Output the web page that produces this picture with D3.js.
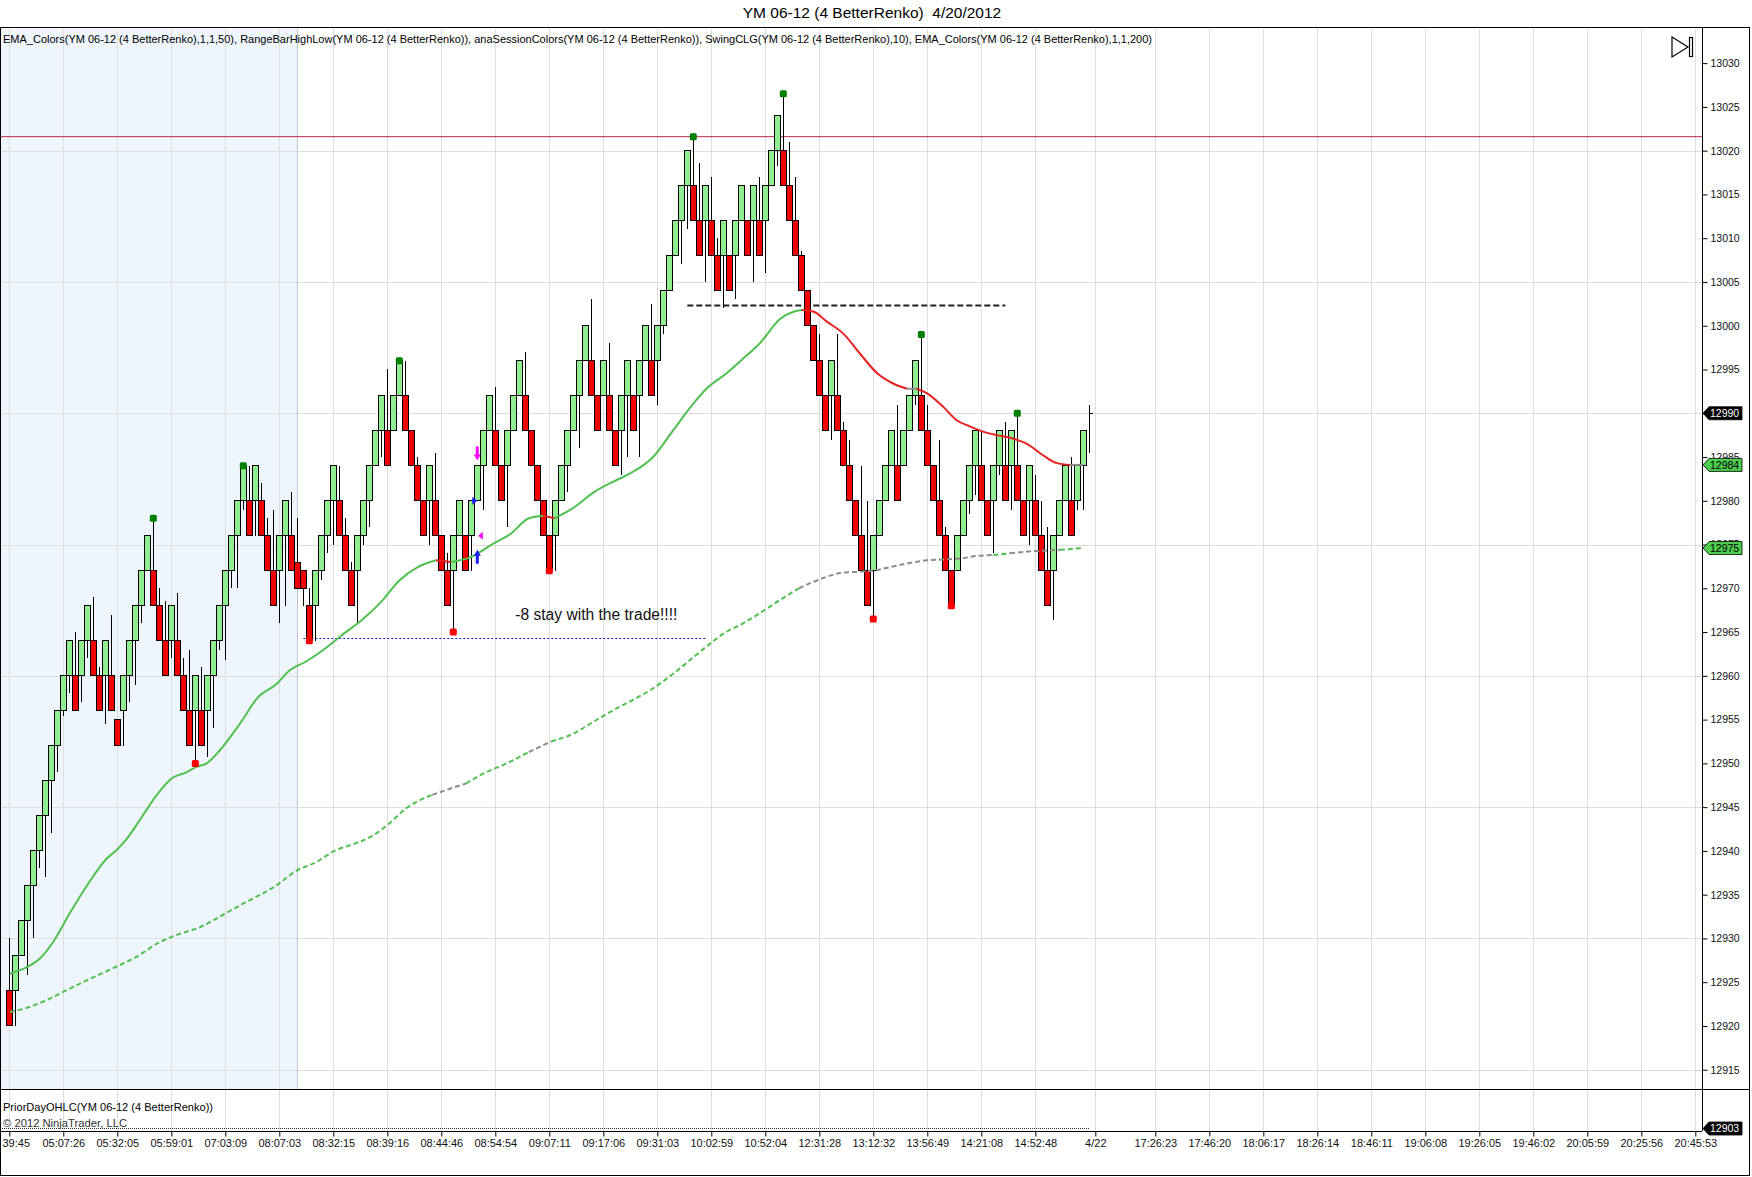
<!DOCTYPE html>
<html>
<head>
<meta charset="utf-8">
<script src="https://cdn.jsdelivr.net/npm/d3@7"></script>
<style>
  body { margin: 0; background: #fff; }
  svg { display: block; font-family: "Liberation Sans", Arial, sans-serif; }
</style>
</head>
<body>
<svg id="chart" width="1752" height="1177"></svg>
<script>
// ---- renko bars (bar 1 .. 181) ----
const barOpen = [
  12924,12924,12928,12932,12936,12940,12944,12948,12952,12956,
  12960,12960,12960,12964,12964,12960,12960,12960,12955,12956,
  12960,12964,12968,12972,12972,12968,12964,12964,12964,12960,
  12956,12956,12956,12956,12960,12964,12968,12972,12976,12980,
  12980,12980,12980,12976,12972,12972,12976,12976,12973,12972,
  12968,12968,12972,12976,12980,12980,12976,12972,12972,12976,
  12980,12984,12988,12988,12988,12992,12992,12988,12984,12980,
  12980,12980,12976,12972,12972,12976,12976,12976,12980,12984,
  12988,12988,12984,12984,12988,12992,12992,12988,12984,12980,
  12976,12976,12980,12984,12988,12992,12996,12996,12992,12992,
  12992,12988,12988,12992,12992,12992,12996,12996,12996,13000,
  13004,13008,13012,13016,13016,13012,13012,13012,13008,13008,
  13008,13008,13012,13012,13012,13012,13012,13016,13020,13020,
  13016,13012,13008,13004,13000,12996,12992,12992,12992,12988,
  12984,12980,12976,12972,12972,12976,12980,12984,12984,12984,
  12988,12992,12992,12988,12984,12980,12976,12972,12972,12976,
  12980,12984,12984,12980,12980,12984,12984,12984,12984,12980,
  12980,12980,12976,12972,12972,12976,12980,12980,12980,12984,
  12990];
const barClose = [
  12920,12928,12932,12936,12940,12944,12948,12952,12956,12960,
  12964,12956,12964,12968,12960,12956,12964,12956,12952,12960,
  12964,12968,12972,12976,12968,12964,12960,12968,12960,12956,
  12952,12960,12952,12960,12964,12968,12972,12976,12980,12984,
  12976,12984,12976,12972,12968,12976,12980,12972,12970,12970,
  12964,12972,12976,12980,12984,12976,12972,12968,12976,12980,
  12984,12988,12992,12984,12992,12996,12988,12984,12980,12976,
  12984,12976,12972,12968,12976,12980,12972,12980,12984,12988,
  12992,12984,12980,12988,12992,12996,12988,12984,12980,12976,
  12972,12980,12984,12988,12992,12996,13000,12992,12988,12996,
  12988,12984,12992,12996,12988,12996,13000,12992,13000,13004,
  13008,13012,13016,13020,13012,13008,13016,13008,13004,13012,
  13004,13012,13016,13008,13016,13008,13016,13020,13024,13016,
  13012,13008,13004,13000,12996,12992,12988,12996,12988,12984,
  12980,12976,12972,12968,12976,12980,12984,12988,12980,12988,
  12992,12996,12988,12984,12980,12976,12972,12968,12976,12980,
  12984,12988,12980,12976,12984,12988,12980,12988,12980,12976,
  12984,12976,12972,12968,12976,12980,12984,12976,12984,12988,
  12990];
const barHigh = [
  12930,12928,12932,12936,12940,12944,12948,12952,12956,12960,
  12964,12965,12964,12968,12969,12961,12964,12967,12955,12960,
  12964,12968,12972,12976,12978,12970,12968.5,12968,12969.5,12962,
  12963,12960,12961,12960,12964,12968,12972,12976,12980,12984,
  12984,12984,12982,12978,12979,12976,12980,12981,12978,12972,
  12970,12972,12976,12980,12984,12984,12978,12973,12976,12980,
  12984,12988,12992,12995,12992,12996,12996,12988,12985,12980,
  12984,12985.5,12976,12974,12976,12980,12976,12980,12984,12988,
  12992,12993,12984,12988,12992,12996,12997,12988,12984,12980,
  12976,12980,12984,12988,12992,12996,13000,13003,12992,12996,
  12998,12988,12992,12996,12992,12996,13000,13002.5,13000,13004,
  13008,13012,13016,13020,13021.6,13018.6,13016,13017,13010,13012,
  13008,13012,13016,13012,13016,13017,13016,13020,13024,13026.5,
  13021,13017,13008.5,13004,13000,12999,12992,12996,12999,12989,
  12987,12980,12984,12980,12976,12980,12984,12988,12991,12988,
  12992,12996,12999,12991,12984,12987,12977,12972,12976,12980,
  12984,12988,12988,12980,12984,12988,12989,12988,12990,12980,
  12984,12983,12980,12977,12976,12980,12984,12985,12984,12988,
  12991];
const barLow = [
  12920,12920,12928,12925.8,12930,12938,12937,12942,12949,12955.4,
  12958,12956,12957,12962,12960,12956,12954.5,12956,12952,12952,
  12957,12959,12966,12972,12968,12964,12960,12962,12960,12956,
  12952,12950,12952,12950.7,12954,12963,12961.8,12970,12970,12979,
  12976,12976,12976,12972,12968,12966,12968,12972,12970,12968,
  12964,12964,12971,12974,12975,12976,12972,12968,12966,12975,
  12977,12984,12985,12984,12988,12992,12988,12984,12980,12976,
  12975,12976,12972,12968,12965,12976,12972,12972,12980,12979,
  12988,12984,12980,12977,12988,12992,12988,12984,12980,12976,
  12972,12972,12980,12981,12988,12986,12996,12992,12988,12992,
  12988,12984,12983,12985,12988,12985,12996,12992,12991,12999,
  13004,13008,13007,13011,13012,13008,13005,13008,13004,13002,
  13004,13003,13012,13008,13005,13008,13006,13016,13018.3,13016,
  13012,13008,13004,13000,12996,12992,12988,12987,12988,12984,
  12980,12976,12972,12968,12966.5,12976,12980,12984,12980,12984,
  12988,12991,12988,12984,12980,12976,12972,12968,12972,12976,
  12978.5,12980.7,12980,12976,12974,12983,12980,12979,12980,12976,
  12975,12976,12972,12968,12966.4,12976,12980,12976,12979,12979,
  12985.5];

// ---- EMA(50) : bar position / value ----
const ema50Bar = [1.1,3.6,6.1,8.3,11.1,14.2,17.2,18.9,20.6,23.3,25.6,28.1,30.6,32.2,33.9,36.1,39.4,42.5,45.6,47.5,
  50.6,53.6,56.7,59.8,62.9,66.0,69.0,72.1,74.6,77.7,81.4,84.5,87.6,90.0,91.9,95.0,98.7,101.7,104.4,108.3,
  111.7,115.0,117.2,120.6,123.4,126.1,129.5,131.7,133.1,135.1,137.2,140.0,142.8,145.6,148.3,150.6,152.2,153.9,156.7,158.9,
  161.1,163.3,165.6,167.8,170.6,173.3,175.6,177.8,180.0];
const ema50Val = [12926.0,12926.6,12927.7,12929.6,12932.9,12936.3,12939.1,12940.1,12941.4,12944.1,12946.4,12948.3,12949.0,12949.6,12950.0,12951.5,12954.5,12957.6,12959.1,12960.5,
  12961.7,12963.1,12964.8,12966.4,12968.4,12970.9,12972.4,12973.2,12973.0,12973.5,12975.0,12976.2,12978.0,12978.3,12978.0,12979.2,12981.1,12982.2,12983.1,12985.0,
  12988.1,12991.1,12992.8,12994.6,12996.3,12998.0,13000.8,13001.6,13001.8,13001.6,13000.5,12999.1,12996.8,12994.6,12993.4,12992.8,12992.8,12992.3,12990.7,12989.2,
  12988.5,12987.9,12987.5,12987.2,12986.5,12985.2,12984.3,12984.1,12984.1];

// ---- EMA(200) ----
const ema200Bar = [1.1,3.6,6.7,10.6,14.5,18.3,22.2,25.6,28.9,32.8,36.1,39.5,45.6,49.0,51.8,55.5,58.0,61.7,64.1,67.2,
  71.5,74.0,77.1,80.2,83.9,87.6,91.3,95.0,98.7,101.7,104.8,107.9,111.0,114.1,117.1,120.2,123.3,126.4,129.5,132.6,
  135.6,140.0,142.8,145.6,148.3,151.1,153.9,156.7,159.5,162.2,165.0,167.8,170.6,173.3,176.1,180.0];
const ema200Val = [12921.6,12922.0,12922.8,12924.1,12925.4,12926.6,12927.9,12929.4,12930.4,12931.3,12932.5,12933.8,12936.1,12937.8,12938.6,12940.1,12940.7,12941.8,12943.0,12944.9,
  12946.4,12947.0,12947.7,12948.9,12950.0,12951.3,12952.5,12953.4,12954.9,12956.1,12957.2,12958.4,12959.9,12961.6,12963.3,12964.9,12966.0,12967.3,12968.7,12970.0,
  12970.9,12971.8,12971.9,12972.1,12972.5,12972.9,12973.2,12973.3,12973.4,12973.7,12973.8,12974.0,12974.2,12974.3,12974.4,12974.6];
// stretches where the 200 line is shown neutral (grey)
const ema200Flat = [[71.5, 77.1], [87.6, 91.3], [132.6, 165.0], [167.8, 176.1]];

// ---- swing points, drawn objects ----
const swingHighBars = [25, 40, 66, 115, 130, 153, 169];
const swingLowBars = [32, 51, 75, 91, 145, 158];
const priorDayHigh = 13021.6;
const blueLine = { from: 50, to: 117, price: 12964.3 };
const blackLine = { from: 114, to: 167, price: 13002.3 };
const tradeMarks = [
  { bar: 79, price: 12980, kind: "entry" },
  { bar: 79, price: 12976, kind: "exit" },
  { bar: 79, price: 12984.6, kind: "down" },
  { bar: 79, price: 12974.4, kind: "up" }
];
const note = { bar: 85, price: 12967, text: "-8 stay with the trade!!!!" };
const sessionStartBar = 49;
const priorDayClose = 12903;

// ---- axes ----
// first label is clipped by the left edge in the chart, only "39:45" shows
const timeLabels = ["39:45","05:07:26","05:32:05","05:59:01","07:03:09","08:07:03","08:32:15","08:39:16",
  "08:44:46","08:54:54","09:07:11","09:17:06","09:31:03","10:02:59","10:52:04","12:31:28","13:12:32",
  "13:56:49","14:21:08","14:52:48","4/22","17:26:23","17:46:20","18:06:17","18:26:14","18:46:11",
  "19:06:08","19:26:05","19:46:02","20:05:59","20:25:56","20:45:53"];
const timeBars = [1,10,19,28,37,46,55,64,73,82,91,100,109,118,127,136,145,154,163,172,182,
  192,201,210,219,228,237,246,255,264,273,282];
const priceTicks = d3.range(12915, 13031, 5);
const priceGrid = d3.range(12915, 13021, 15);

// ---- layout ----
const W = 1752, H = 1177;
const paneTop = 29, paneBottom = 1089, panelBottom = 1131, axisX = 1702;

const x = d3.scaleLinear().domain([1, 282]).range([9.3, 1695.3]);
const y = d3.scaleLinear().domain([12912.8, 13033.9]).range([paneBottom, paneTop]);
const yPanel = d3.scaleLinear().domain([12902.5, 12909.5]).range([panelBottom, paneBottom]);

const GREEN = "#50c050", RED = "#e82020", GREY = "#8c8c8c";

const svg = d3.select("#chart");
svg.append("rect").attr("width", W).attr("height", H).attr("fill", "#fff");

// session shading
svg.append("rect")
  .attr("x", 0).attr("y", paneTop)
  .attr("width", x(sessionStartBar)).attr("height", paneBottom - paneTop)
  .attr("fill", "#eef5fd");

// grid
const grid = svg.append("g").attr("shape-rendering", "crispEdges");
grid.selectAll("line.v").data(timeBars).enter().append("line")
  .attr("x1", d => Math.round(x(d)) + 0.5).attr("x2", d => Math.round(x(d)) + 0.5)
  .attr("y1", paneTop).attr("y2", panelBottom)
  .attr("stroke", "#dedede");
grid.selectAll("line.h").data(priceGrid).enter().append("line")
  .attr("x1", 0).attr("x2", axisX)
  .attr("y1", d => Math.round(y(d)) + 0.5).attr("y2", d => Math.round(y(d)) + 0.5)
  .attr("stroke", "#dedede");
grid.append("line")
  .attr("x1", Math.round(x(sessionStartBar)) + 0.5).attr("x2", Math.round(x(sessionStartBar)) + 0.5)
  .attr("y1", paneTop).attr("y2", paneBottom)
  .attr("stroke", "#bcc7d3");

// prior day high
svg.append("line")
  .attr("x1", 0).attr("x2", axisX)
  .attr("y1", y(priorDayHigh)).attr("y2", y(priorDayHigh))
  .attr("stroke", "#b82a4a").attr("stroke-width", 1);

// drawn horizontal lines
svg.append("line")
  .attr("x1", x(blueLine.from)).attr("x2", x(blueLine.to))
  .attr("y1", Math.round(y(blueLine.price)) + 0.5).attr("y2", Math.round(y(blueLine.price)) + 0.5)
  .attr("stroke", "#1a1ad0").attr("stroke-width", 1).attr("stroke-dasharray", "2,2");
svg.append("line")
  .attr("x1", x(blackLine.from)).attr("x2", x(blackLine.to))
  .attr("y1", y(blackLine.price)).attr("y2", y(blackLine.price))
  .attr("stroke", "#222").attr("stroke-width", 2).attr("stroke-dasharray", "6,3");

// bars
const bars = barOpen.map((o, i) => ({ i: i + 1, o, c: barClose[i], h: barHigh[i], l: barLow[i] }));
const barG = svg.append("g").attr("shape-rendering", "crispEdges");
barG.selectAll("line.wick").data(bars).enter().append("line")
  .attr("x1", d => Math.round(x(d.i)) + 0.5).attr("x2", d => Math.round(x(d.i)) + 0.5)
  .attr("y1", d => y(d.h)).attr("y2", d => y(d.l))
  .attr("stroke", "#000");
barG.selectAll("rect.body").data(bars.filter(d => d.o !== d.c)).enter().append("rect")
  .attr("x", d => Math.round(x(d.i)) - 2.5)
  .attr("y", d => y(Math.max(d.o, d.c)))
  .attr("width", 6)
  .attr("height", d => Math.abs(y(d.o) - y(d.c)))
  .attr("fill", d => d.c > d.o ? "#90ee90" : "#f00000")
  .attr("stroke", "#000").attr("stroke-width", 1);
barG.selectAll("line.flat").data(bars.filter(d => d.o === d.c)).enter().append("line")
  .attr("x1", d => Math.round(x(d.i))).attr("x2", d => Math.round(x(d.i)) + 4)
  .attr("y1", d => y(d.c)).attr("y2", d => y(d.c))
  .attr("stroke", "#000");

// EMA lines, split into colour runs
const emaLine = d3.line().x(d => x(d[0])).y(d => y(d[1])).curve(d3.curveMonotoneX);
function drawEma(bx, vals, colourOf, dash) {
  const pts = bx.map((b, j) => [b, vals[j]]);
  const runs = [];
  let cur = null;
  for (let j = 0; j < pts.length - 1; j++) {
    const c = colourOf(pts[j], pts[j + 1]);
    if (!cur || cur.c !== c) { cur = { c, pts: [pts[j]] }; runs.push(cur); }
    cur.pts.push(pts[j + 1]);
  }
  runs.forEach(r => {
    svg.append("path")
      .attr("d", emaLine(r.pts))
      .attr("fill", "none")
      .attr("stroke", r.c)
      .attr("stroke-width", 2)
      .attr("stroke-dasharray", dash);
  });
}
drawEma(ema200Bar, ema200Val, (a, b) => {
  const mid = (a[0] + b[0]) / 2;
  return ema200Flat.some(r => mid >= r[0] && mid <= r[1]) ? GREY : GREEN;
}, "5,3");
drawEma(ema50Bar, ema50Val, (a, b) => {
  const slope = (b[1] - a[1]) / (b[0] - a[0]);
  return slope > 0.06 ? GREEN : slope < -0.06 ? RED : GREY;
}, null);

// swing dots
svg.selectAll("rect.sh").data(swingHighBars).enter().append("rect")
  .attr("x", d => x(d) - 3.5).attr("y", d => y(barHigh[d - 1]) - 3.5)
  .attr("width", 7).attr("height", 7).attr("rx", 1.5)
  .attr("fill", "#008000");
svg.selectAll("rect.sl").data(swingLowBars).enter().append("rect")
  .attr("x", d => x(d) - 3.5).attr("y", d => y(barLow[d - 1]) - 3.5)
  .attr("width", 7).attr("height", 7).attr("rx", 1.5)
  .attr("fill", "#ff0000");

// trade markers
tradeMarks.forEach(m => {
  const cx = x(m.bar), cy = y(m.price);
  let p, col;
  if (m.kind === "entry") {
    p = `M${cx - 5},${cy - 4}L${cx},${cy}L${cx - 5},${cy + 4}Z`; col = "#1a1aff";
  } else if (m.kind === "exit") {
    p = `M${cx + 1},${cy}L${cx + 5.5},${cy - 4}L${cx + 5.5},${cy + 4}Z`; col = "#ff00ff";
  } else if (m.kind === "down") {
    p = `M${cx - 1.5},${cy - 14}L${cx + 1.5},${cy - 14}L${cx + 1.5},${cy - 6}L${cx + 3.5},${cy - 6}L${cx},${cy}L${cx - 3.5},${cy - 6}L${cx - 1.5},${cy - 6}Z`;
    col = "#ff00ff";
  } else {
    p = `M${cx - 1.5},${cy + 14}L${cx + 1.5},${cy + 14}L${cx + 1.5},${cy + 6}L${cx + 3.5},${cy + 6}L${cx},${cy}L${cx - 3.5},${cy + 6}L${cx - 1.5},${cy + 6}Z`;
    col = "#1a1aff";
  }
  svg.append("path").attr("d", p).attr("fill", col);
});

// text note
svg.append("text")
  .attr("x", x(note.bar) + 2).attr("y", y(note.price))
  .attr("dy", "0.35em")
  .attr("font-size", 15.6).attr("fill", "#111")
  .text(note.text);

// bottom panel: prior day close plot
svg.append("line")
  .attr("x1", 0).attr("x2", x(bars.length))
  .attr("y1", Math.round(yPanel(priorDayClose)) + 0.5).attr("y2", Math.round(yPanel(priorDayClose)) + 0.5)
  .attr("stroke", "#333").attr("stroke-dasharray", "1,1");
svg.append("text").attr("x", 3).attr("y", 1111)
  .attr("font-size", 10.5).attr("textLength", 210).attr("lengthAdjust", "spacingAndGlyphs")
  .text("PriorDayOHLC(YM 06-12 (4 BetterRenko))");
svg.append("text").attr("x", 3).attr("y", 1127)
  .attr("font-size", 10.5).attr("textLength", 124).attr("lengthAdjust", "spacingAndGlyphs")
  .attr("fill", "#333")
  .text("© 2012 NinjaTrader, LLC");

// frame
const frame = svg.append("g").attr("shape-rendering", "crispEdges").attr("stroke", "#000").attr("fill", "none");
frame.append("rect").attr("x", 0.5).attr("y", 27.5).attr("width", 1749).attr("height", 1148);
frame.append("line").attr("x1", 0).attr("x2", 1750).attr("y1", paneBottom + 0.5).attr("y2", paneBottom + 0.5);
frame.append("line").attr("x1", 0).attr("x2", axisX).attr("y1", panelBottom + 0.5).attr("y2", panelBottom + 0.5);
frame.append("line").attr("x1", axisX + 0.5).attr("x2", axisX + 0.5).attr("y1", 28).attr("y2", panelBottom);

// y axis
const yAxis = svg.append("g")
  .attr("transform", `translate(${axisX + 0.5},0)`)
  .call(d3.axisRight(y).tickValues(priceTicks).tickSize(5).tickPadding(3).tickFormat(d3.format("d")));
yAxis.select(".domain").remove();
yAxis.selectAll("text").attr("font-size", 10.5).attr("font-family", "Liberation Sans, Arial, sans-serif").attr("fill", "#111");
yAxis.selectAll("line").attr("stroke", "#000");

// x axis
const xAxis = svg.append("g")
  .attr("transform", `translate(0,${panelBottom + 0.5})`)
  .call(d3.axisBottom(x).tickValues(timeBars).tickSize(5).tickPadding(3).tickFormat((d, i) => timeLabels[i]));
xAxis.select(".domain").remove();
xAxis.selectAll("text").attr("font-size", 11).attr("font-family", "Liberation Sans, Arial, sans-serif").attr("fill", "#111");
xAxis.selectAll("line").attr("stroke", "#000");
// the clipped first label sits against the left edge
xAxis.selectAll(".tick").filter((d, i) => i === 0).select("text")
  .attr("text-anchor", "start").attr("x", 2 - x(timeBars[0]));

// price tags on the right axis
function priceTag(yy, label, fill, textFill) {
  const g = svg.append("g");
  g.append("path")
    .attr("d", `M${axisX + 1},${yy}L${axisX + 7},${yy - 6.5}L${axisX + 40},${yy - 6.5}L${axisX + 40},${yy + 6.5}L${axisX + 7},${yy + 6.5}Z`)
    .attr("fill", fill).attr("stroke", "#000").attr("stroke-width", 0.8);
  g.append("text").attr("x", axisX + 8).attr("y", yy).attr("dy", "0.36em")
    .attr("font-size", 10.5).attr("fill", textFill).text(label);
}
const lastEma50 = ema50Val[ema50Val.length - 1];
const lastEma200 = ema200Val[ema200Val.length - 1];
priceTag(y(barClose[barClose.length - 1]), d3.format("d")(barClose[barClose.length - 1]), "#000", "#fff");
priceTag(y(lastEma50), d3.format(".0f")(lastEma50), "#4ccc4c", "#000");
priceTag(y(lastEma200), d3.format(".0f")(lastEma200), "#4ccc4c", "#000");
priceTag(Math.round(yPanel(priorDayClose)) + 0.5, d3.format("d")(priorDayClose), "#000", "#fff");

// title and indicator caption
svg.append("text").attr("x", 872).attr("y", 13).attr("dy", "0.35em")
  .attr("text-anchor", "middle").attr("font-size", 15.5).style("white-space", "pre")
  .text("YM 06-12 (4 BetterRenko)  4/20/2012");
svg.append("text").attr("x", 3).attr("y", 39).attr("dy", "0.35em")
  .attr("font-size", 10.5).attr("textLength", 1149).attr("lengthAdjust", "spacingAndGlyphs")
  .text("EMA_Colors(YM 06-12 (4 BetterRenko),1,1,50), RangeBarHighLow(YM 06-12 (4 BetterRenko)), anaSessionColors(YM 06-12 (4 BetterRenko)), SwingCLG(YM 06-12 (4 BetterRenko),10), EMA_Colors(YM 06-12 (4 BetterRenko),1,1,200)");

// "scroll to end" icon
svg.append("path").attr("d", "M1672,37L1688,47L1672,57Z").attr("fill", "none").attr("stroke", "#000").attr("stroke-width", 1.2);
svg.append("rect").attr("x", 1689.5).attr("y", 37.5).attr("width", 3).attr("height", 19).attr("fill", "none").attr("stroke", "#000").attr("stroke-width", 1.2);
</script>
</body>
</html>
